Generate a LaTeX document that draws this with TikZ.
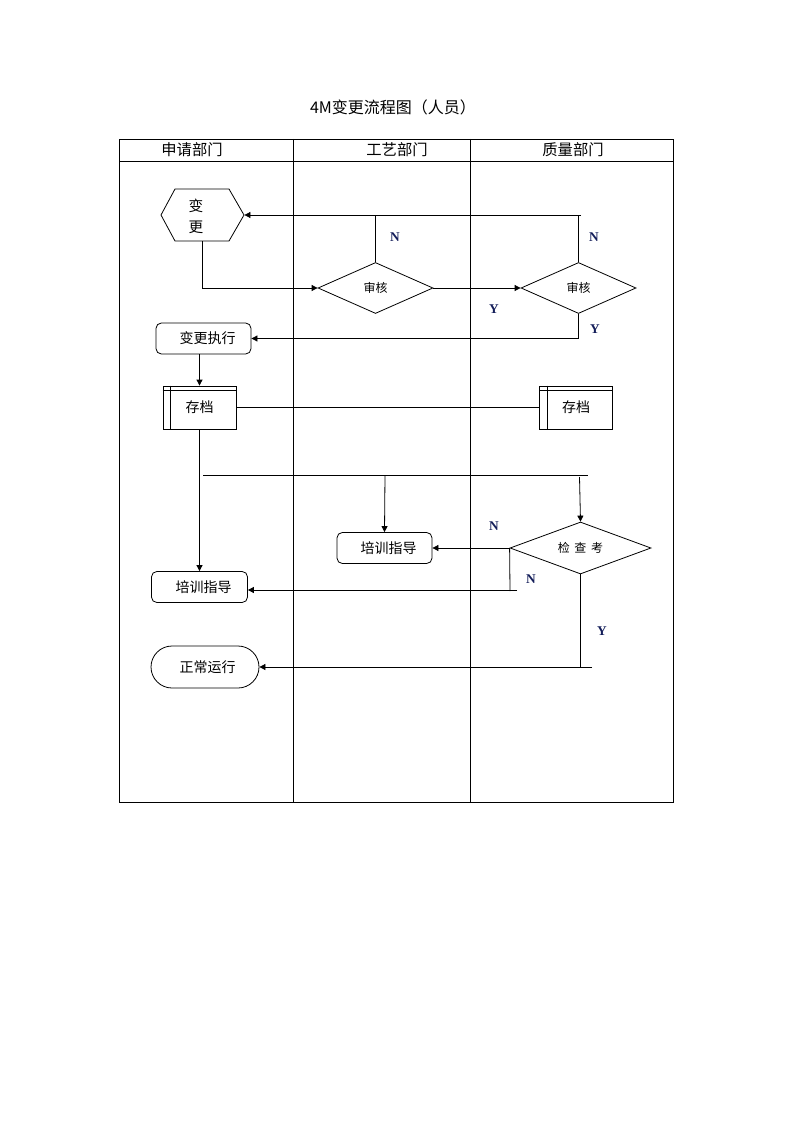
\documentclass[tikz,border=0pt]{standalone}
\usepackage{fontspec}
\newfontfamily\cjk{Noto Sans CJK SC}
\newfontfamily\labf{Liberation Serif}
\usetikzlibrary{shapes.geometric,shapes.misc,arrows.meta}
\definecolor{labcol}{RGB}{20,30,90}
\begin{document}
\begin{tikzpicture}[x=0.75pt,y=-0.75pt,line width=0.6pt,
  arr/.style={-{Triangle[length=4.5pt,width=4.5pt]}},
  txt/.style={font=\cjk\fontsize{10.5}{12}\selectfont},
  small/.style={font=\cjk\fontsize{9}{11}\selectfont},
  hdr/.style={font=\cjk\fontsize{11.5}{13}\selectfont},
  rbox/.style={draw, rounded corners=4pt, inner sep=0pt, txt},
  arcbox/.style={draw, inner sep=0pt, txt, minimum width=54.75pt, minimum height=32.25pt},
  dia/.style={draw, diamond, inner sep=0pt, small},
  lab/.style={font=\labf\bfseries\fontsize{10}{12}\selectfont, text=labcol, inner sep=0pt}
]
\useasboundingbox[fill=white] (0,0) rectangle (794,1123);

% title
\node[font=\cjk\fontsize{12}{14}\selectfont] (title) at (393,107) {4M变更流程图（人员）};

% table frame
\draw (119,139) rectangle (673,802);
\draw (119,161) -- (673,161);
\draw (293,139) -- (293,802);
\draw (470,139) -- (470,802);
\node[hdr] (h1) at (192,150) {申请部门};
\node[hdr] (h2) at (397,150) {工艺部门};
\node[hdr] (h3) at (573,150) {质量部门};

% hexagon
\draw (175,189) -- (229,189) -- (244,215) -- (229,241) -- (175,241) -- (161,215) -- cycle;
\node[minimum width=62.25pt, minimum height=39pt, inner sep=0pt] (hex) at (202.5,215) {};
\node[font=\cjk\fontsize{11}{15.75}\selectfont, align=center] (hext) at (196,216) {变\\更};

% diamonds
\node[dia, minimum width=86.25pt, minimum height=38.25pt] (d1) at (375.5,288) {审核};
\node[dia, minimum width=86.25pt, minimum height=38.25pt] (d2) at (578.5,288) {审核};
\node[dia, aspect=3.2, minimum width=105.75pt, minimum height=39pt] (d3) at (580.5,548) {检\hspace{3.5pt}查\hspace{3.5pt}考};

% boxes
\node[rbox, minimum width=71.25pt, minimum height=23.25pt] (exe) at (203.5,338.5) {\hspace{6pt}变更执行};
\node[arcbox] (arc1) at (199.5,407.5) {存档};
\node[arcbox] (arc2) at (576,407.5) {存档};
\draw ([yshift=-3.75pt]arc1.north west) -- ([yshift=-3.75pt]arc1.north east);
\draw ([xshift=6pt]arc1.north west) -- ([xshift=6pt]arc1.south west);
\draw ([yshift=-3.75pt]arc2.north west) -- ([yshift=-3.75pt]arc2.north east);
\draw ([xshift=6pt]arc2.north west) -- ([xshift=6pt]arc2.south west);
\node[rbox, minimum width=71.25pt, minimum height=23.25pt] (tr2) at (384.5,548) {\hspace{6pt}培训指导};
\node[rbox, minimum width=72pt, minimum height=23.25pt] (tr1) at (199.5,587) {\hspace{6pt}培训指导};
\node[draw, rounded rectangle, inner sep=0pt, txt, minimum width=81pt, minimum height=31.5pt] (run) at (205,667) {\hspace{4pt}正常运行};

% coordinates
\coordinate (tr) at (581,215);
\coordinate (hl1) at (203,475);
\coordinate (hl2) at (588,475);
\coordinate (hv1) at (385,475);
\coordinate (hv2) at (579.5,477);
\coordinate (nb) at (510,591);
\coordinate (nb2) at (517,590);
\coordinate (yb) at (592,667);

% connectors
\draw[arr] (hex.south) |- (d1.west);
\draw[arr] (tr) -- (hex.east);
\draw (d1.north) -- (d1.north |- tr);
\draw (d2.north) -- (d2.north |- tr);
\draw[arr] (d1.east) -- (d2.west);
\draw[arr] (d2.south) |- (exe.east);
\draw[arr] (arc1.north |- exe.south) -- (arc1.north);
\draw (arc1.east) -- (arc2.west);
\draw[arr] (arc1.south) -- (tr1.north);
\draw (hl1) -- (hl2);
\draw[arr] (hv1) -- (tr2.north);
\draw[arr] (hv2) -- (d3.north);
\draw[arr] (d3.west) -- (tr2.east);
\draw (d3.west) -- (nb);
\draw[arr] (nb2) -- (nb2 -| tr1.east);
\draw (d3.south) -- (d3.south |- yb);
\draw[arr] (yb) -- (run.east);

% labels
\node[lab] (n1) at (395,237) {N};
\node[lab] (n2) at (594,237) {N};
\node[lab] (y1) at (494,309) {Y};
\node[lab] (y2) at (595,329) {Y};
\node[lab] (n3) at (494,526) {N};
\node[lab] (n4) at (531,579) {N};
\node[lab] (y3) at (602,631) {Y};
\end{tikzpicture}
\end{document}
